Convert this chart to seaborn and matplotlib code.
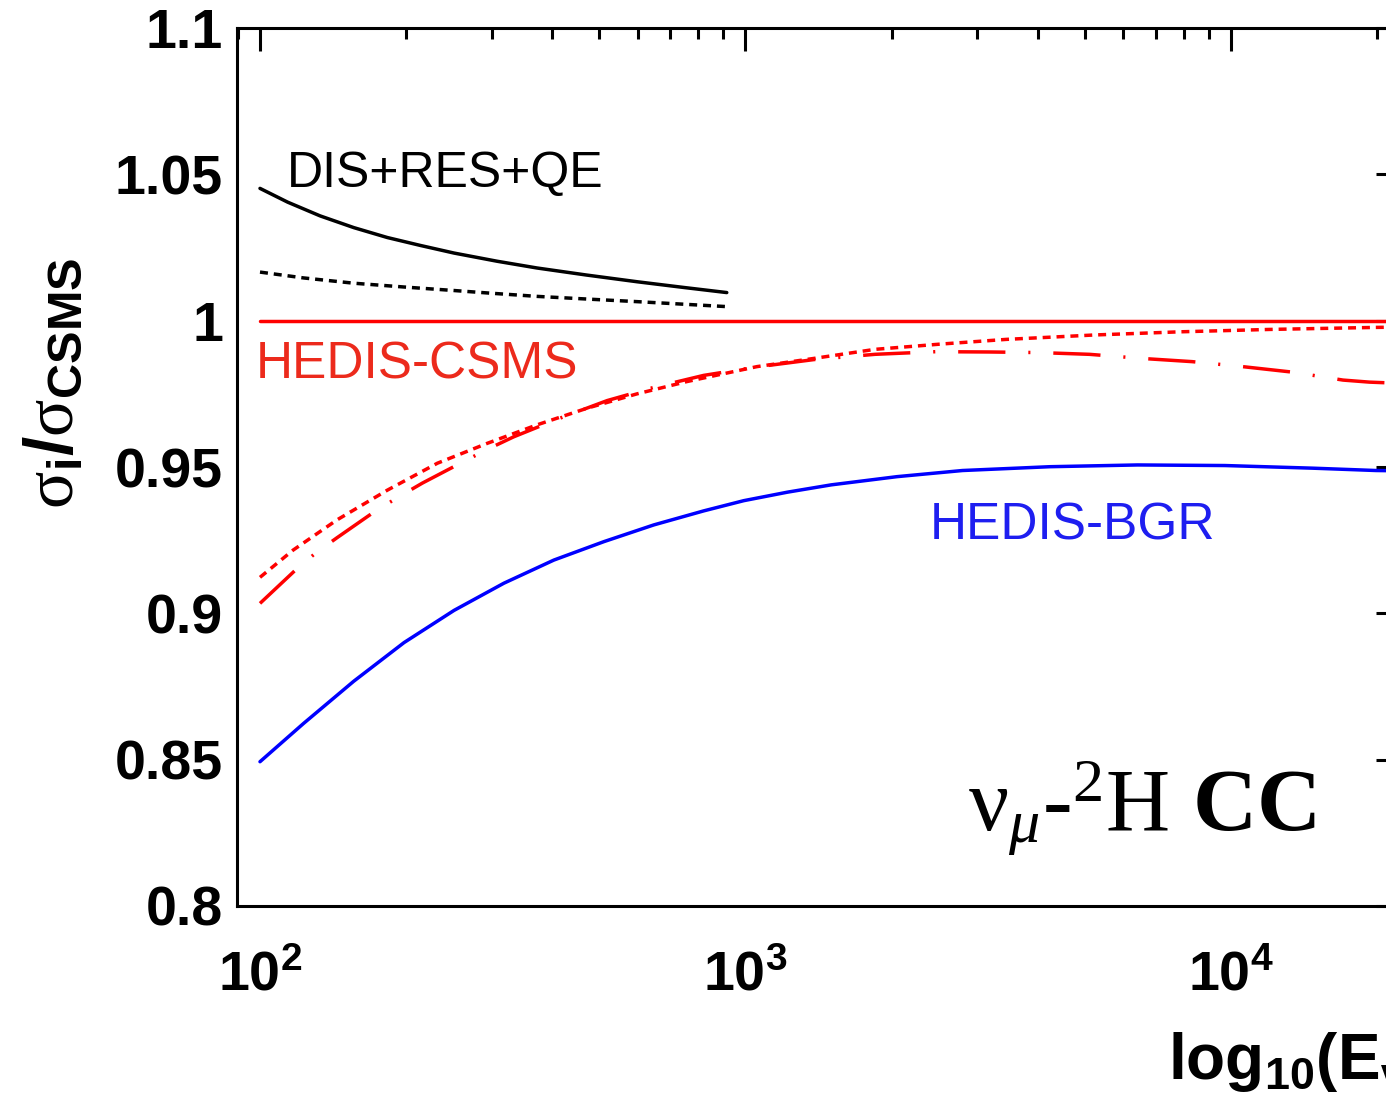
import numpy as np
import matplotlib
matplotlib.use("Agg")
import matplotlib.pyplot as plt
import matplotlib.ticker as mticker
import seaborn as sns

# neutrino energy (GeV) and cross-section ratio sigma_i / sigma_CSMS
e_dis_solid = [100, 114, 133, 156, 183, 214, 251, 308, 372, 470, 598, 750, 915]
r_dis_solid = [1.0452, 1.0405, 1.0358, 1.0318, 1.0284, 1.0257, 1.0231, 1.0203, 1.0180,
               1.0156, 1.0133, 1.0113, 1.0096]

e_dis_dotted = [100, 123, 156, 198, 251, 298, 372, 470, 598, 750, 915]
r_dis_dotted = [1.0166, 1.0146, 1.0128, 1.0115, 1.0103, 1.0094, 1.0083, 1.0074, 1.0065,
                1.0056, 1.0048]

e_csms = [100, 22200]
r_csms = [1.0, 1.0]

e_red_dot = [100, 117, 144, 183, 232, 294, 372, 472, 598, 758, 1056, 1383, 1848, 2523,
             3441, 5216, 7889, 11970, 19890, 22200]
r_red_dot = [0.9123, 0.9216, 0.9319, 0.9421, 0.9513, 0.9581, 0.9644, 0.9701, 0.9750, 0.9792,
             0.9843, 0.9871, 0.9902, 0.9920, 0.9936, 0.9951, 0.9962, 0.9970, 0.9977, 0.9978]

e_red_dd = [100, 118, 130, 144, 173, 194, 216, 265, 298, 333, 412, 519, 647, 820, 1056,
            1383, 1848, 2466, 3170, 4023, 5108, 6551, 8318, 10560, 13410, 17010, 19280, 22200]
r_red_dd = [0.9034, 0.9146, 0.9205, 0.9258, 0.9350, 0.9400, 0.9445, 0.9522, 0.9565, 0.9603,
            0.9665, 0.9727, 0.9772, 0.9813, 0.9842, 0.9867, 0.9885, 0.9894, 0.9893, 0.9891,
            0.9885, 0.9871, 0.9860, 0.9843, 0.9824, 0.9797, 0.9790, 0.9786]

e_bgr = [100, 123, 156, 198, 251, 318, 403, 511, 647, 820, 992, 1220, 1502, 2051, 2799,
         4236, 6419, 9719, 14720, 19890, 22200]
r_bgr = [0.8493, 0.8624, 0.8768, 0.8900, 0.9010, 0.9103, 0.9182, 0.9245, 0.9302, 0.9350,
         0.9385, 0.9414, 0.9439, 0.9467, 0.9488, 0.9501, 0.9507, 0.9505, 0.9496, 0.9488, 0.9487]

sns.set_theme(style="white")
plt.rcParams["font.family"] = ["Liberation Sans", "DejaVu Sans"]
plt.rcParams["mathtext.fontset"] = "custom"
plt.rcParams["mathtext.rm"] = "Liberation Serif"
plt.rcParams["mathtext.it"] = "Liberation Serif:italic"
plt.rcParams["mathtext.bf"] = "Liberation Serif:bold"
plt.rcParams["mathtext.sf"] = "Liberation Sans:bold"
for key in ["text.color", "axes.labelcolor", "xtick.color", "ytick.color", "axes.edgecolor"]:
    plt.rcParams[key] = "black"

fig = plt.figure(figsize=(13.86, 11.19), dpi=100)
# axes run past the right edge of the canvas, as in the cropped original
ax = fig.add_axes([237 / 1386, 1 - 906 / 1119, 1162 / 1386, 878 / 1119])

lw = 2.5
dotted = (0, (2.3, 1.7))
dashdot = (0, (13.6, 6.6, 0.6, 6.6))
line_kw = dict(ax=ax, linewidth=lw, estimator=None, sort=False)
sns.lineplot(x=e_dis_solid, y=r_dis_solid, color="black", **line_kw)
sns.lineplot(x=e_dis_dotted, y=r_dis_dotted, color="black", linestyle=dotted, **line_kw)
sns.lineplot(x=e_csms, y=r_csms, color="#ff0000", **line_kw)
sns.lineplot(x=e_red_dot, y=r_red_dot, color="#ff0000", linestyle=dotted, **line_kw)
sns.lineplot(x=e_red_dd, y=r_red_dd, color="#ff0000", linestyle=dashdot, **line_kw)
sns.lineplot(x=e_bgr, y=r_bgr, color="#0000ff", **line_kw)

ax.set_xscale("log")
ax.set_xlim(89.67, 22183)
ax.set_ylim(0.8, 1.1)

ax.xaxis.set_major_locator(mticker.LogLocator(base=10, numticks=10))
ax.xaxis.set_minor_locator(mticker.LogLocator(base=10, subs=np.arange(2, 10), numticks=20))
ax.xaxis.set_major_formatter(mticker.FuncFormatter(
    lambda v, p: r"$\mathsf{10^{%d}}$" % int(round(np.log10(v)))))
ax.xaxis.set_minor_formatter(mticker.NullFormatter())
ax.yaxis.set_major_locator(mticker.MultipleLocator(0.05))
ax.yaxis.set_minor_locator(mticker.MultipleLocator(0.01))
ax.yaxis.set_major_formatter(mticker.FuncFormatter(lambda v, p: f"{v:g}"))

for s in ax.spines.values():
    s.set_linewidth(2.2)
    s.set_color("black")
ax.tick_params(which="both", direction="in", top=True, right=True, width=2.2, color="black")
ax.tick_params(which="major", length=16.5, labelsize=40)
ax.tick_params(which="minor", length=8)
ax.tick_params(axis="x", which="major", pad=32)
ax.tick_params(axis="y", which="major", pad=10)
for lab in ax.get_yticklabels():
    lab.set_fontweight("bold")

ax.set_ylabel(r"$\mathrm{\sigma}_{\mathsf{i}}\mathsf{/}\mathrm{\sigma}_{\mathsf{CSMS}}$", fontsize=50)
ax.yaxis.set_label_coords(-0.157, 0.595)
ax.yaxis.label.set_va("center")

ax.set_xlabel(r"$\mathsf{log_{10}(E_{\nu}/GeV)}$", fontsize=46)
ax.xaxis.set_label_coords(0.801, -0.141)
ax.xaxis.label.set_ha("left")
ax.xaxis.label.set_va("top")

ax.text(0.043, 0.819, "DIS+RES+QE", transform=ax.transAxes, fontsize=36, color="black", va="baseline")
ax.text(0.0164, 0.601, "HEDIS-CSMS", transform=ax.transAxes, fontsize=37, color="#ec2a1c", va="baseline")
ax.text(0.5964, 0.4169, "HEDIS-BGR", transform=ax.transAxes, fontsize=37, color="#1e1ef0", va="baseline")
ax.text(0.629, 0.0866, r"$\mathrm{\nu}_{\mu}$-${}^{\mathrm{2}}\mathrm{H}$ $\mathbf{CC}$",
        transform=ax.transAxes, fontsize=64, family="Liberation Serif", va="baseline")

fig.savefig("out.png", dpi=100)
